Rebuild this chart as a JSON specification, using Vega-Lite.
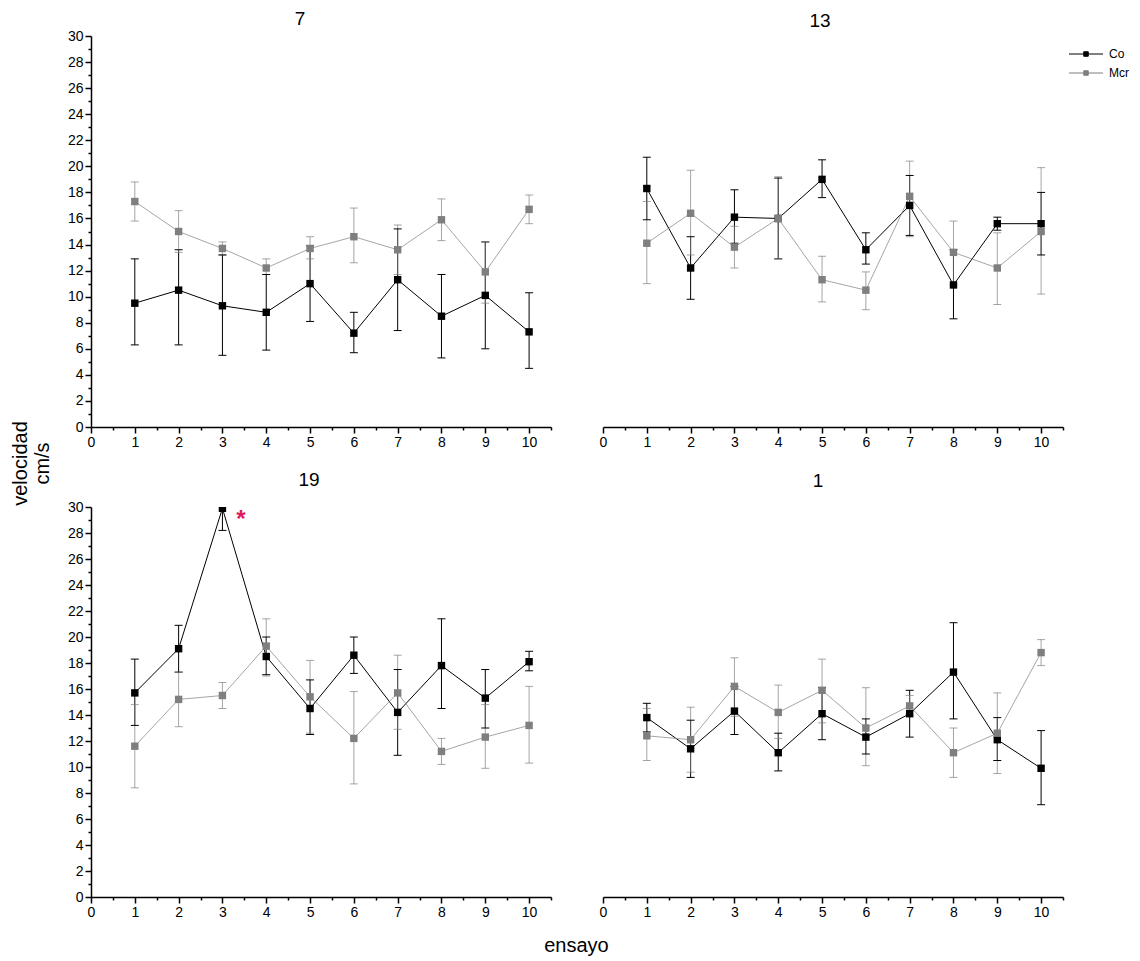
{
  "$schema": "https://vega.github.io/schema/vega-lite/v6.json",
  "padding": {"left": 10, "top": 10, "right": 5, "bottom": 5},
  "bounds": "flush",
  "background": "white",
  "columns": 2,
  "spacing": {"row": 80, "column": 52},
  "config": {
    "font": "Liberation Sans",
    "view": {"stroke": null},
    "axis": {"grid": false, "domainColor": "#000", "tickColor": "#000", "labelColor": "#000", "labelFontSize": 14, "labelFont": "Liberation Sans", "titleFont": "Liberation Sans", "titleFontSize": 20, "titleFontWeight": "normal", "titleColor": "#000", "domainWidth": 1.5, "tickWidth": 1.5, "labelFlush": false, "labelOverlap": false, "labelPadding": 2},
    "title": {"font": "Liberation Sans", "fontSize": 19, "fontWeight": "normal", "color": "#000", "anchor": "middle", "frame": "group"},
    "legend": {"orient": "none", "legendX": 989, "legendY": 12, "labelFontSize": 12, "labelFont": "Liberation Sans", "labelColor": "#000", "symbolType": "M-3.4,0H3.4M-0.45,-0.45H0.45V0.45H-0.45Z", "symbolSize": 100, "symbolStrokeWidth": 1, "rowPadding": 7, "labelOffset": 17}
  },
  "data": {"values": [
    {"panel": "7", "series": "Co", "ensayo": 1, "v": 9.5, "lo": 6.3, "hi": 12.9},
    {"panel": "7", "series": "Co", "ensayo": 2, "v": 10.5, "lo": 6.3, "hi": 13.6},
    {"panel": "7", "series": "Co", "ensayo": 3, "v": 9.3, "lo": 5.5, "hi": 13.2},
    {"panel": "7", "series": "Co", "ensayo": 4, "v": 8.8, "lo": 5.9, "hi": 11.7},
    {"panel": "7", "series": "Co", "ensayo": 5, "v": 11.0, "lo": 8.1, "hi": 13.9},
    {"panel": "7", "series": "Co", "ensayo": 6, "v": 7.2, "lo": 5.7, "hi": 8.8},
    {"panel": "7", "series": "Co", "ensayo": 7, "v": 11.3, "lo": 7.4, "hi": 15.2},
    {"panel": "7", "series": "Co", "ensayo": 8, "v": 8.5, "lo": 5.3, "hi": 11.7},
    {"panel": "7", "series": "Co", "ensayo": 9, "v": 10.1, "lo": 6.0, "hi": 14.2},
    {"panel": "7", "series": "Co", "ensayo": 10, "v": 7.3, "lo": 4.5, "hi": 10.3},
    {"panel": "7", "series": "Mcr", "ensayo": 1, "v": 17.3, "lo": 15.8, "hi": 18.8},
    {"panel": "7", "series": "Mcr", "ensayo": 2, "v": 15.0, "lo": 13.4, "hi": 16.6},
    {"panel": "7", "series": "Mcr", "ensayo": 3, "v": 13.7, "lo": 13.2, "hi": 14.2},
    {"panel": "7", "series": "Mcr", "ensayo": 4, "v": 12.2, "lo": 11.7, "hi": 12.9},
    {"panel": "7", "series": "Mcr", "ensayo": 5, "v": 13.7, "lo": 12.9, "hi": 14.6},
    {"panel": "7", "series": "Mcr", "ensayo": 6, "v": 14.6, "lo": 12.6, "hi": 16.8},
    {"panel": "7", "series": "Mcr", "ensayo": 7, "v": 13.6, "lo": 11.7, "hi": 15.5},
    {"panel": "7", "series": "Mcr", "ensayo": 8, "v": 15.9, "lo": 14.3, "hi": 17.5},
    {"panel": "7", "series": "Mcr", "ensayo": 9, "v": 11.9, "lo": 9.5, "hi": 14.2},
    {"panel": "7", "series": "Mcr", "ensayo": 10, "v": 16.7, "lo": 15.6, "hi": 17.8},
    {"panel": "13", "series": "Co", "ensayo": 1, "v": 18.3, "lo": 15.9, "hi": 20.7},
    {"panel": "13", "series": "Co", "ensayo": 2, "v": 12.2, "lo": 9.8, "hi": 14.6},
    {"panel": "13", "series": "Co", "ensayo": 3, "v": 16.1, "lo": 14.1, "hi": 18.2},
    {"panel": "13", "series": "Co", "ensayo": 4, "v": 16.0, "lo": 12.9, "hi": 19.1},
    {"panel": "13", "series": "Co", "ensayo": 5, "v": 19.0, "lo": 17.6, "hi": 20.5},
    {"panel": "13", "series": "Co", "ensayo": 6, "v": 13.6, "lo": 12.5, "hi": 14.9},
    {"panel": "13", "series": "Co", "ensayo": 7, "v": 17.0, "lo": 14.7, "hi": 19.3},
    {"panel": "13", "series": "Co", "ensayo": 8, "v": 10.9, "lo": 8.3, "hi": 13.6},
    {"panel": "13", "series": "Co", "ensayo": 9, "v": 15.6, "lo": 15.1, "hi": 16.1},
    {"panel": "13", "series": "Co", "ensayo": 10, "v": 15.6, "lo": 13.2, "hi": 18.0},
    {"panel": "13", "series": "Mcr", "ensayo": 1, "v": 14.1, "lo": 11.0, "hi": 17.3},
    {"panel": "13", "series": "Mcr", "ensayo": 2, "v": 16.4, "lo": 13.2, "hi": 19.7},
    {"panel": "13", "series": "Mcr", "ensayo": 3, "v": 13.8, "lo": 12.2, "hi": 15.4},
    {"panel": "13", "series": "Mcr", "ensayo": 4, "v": 16.0, "lo": 12.9, "hi": 19.2},
    {"panel": "13", "series": "Mcr", "ensayo": 5, "v": 11.3, "lo": 9.6, "hi": 13.1},
    {"panel": "13", "series": "Mcr", "ensayo": 6, "v": 10.5, "lo": 9.0, "hi": 11.9},
    {"panel": "13", "series": "Mcr", "ensayo": 7, "v": 17.7, "lo": 14.6, "hi": 20.4},
    {"panel": "13", "series": "Mcr", "ensayo": 8, "v": 13.4, "lo": 10.9, "hi": 15.8},
    {"panel": "13", "series": "Mcr", "ensayo": 9, "v": 12.2, "lo": 9.4, "hi": 14.9},
    {"panel": "13", "series": "Mcr", "ensayo": 10, "v": 15.0, "lo": 10.2, "hi": 19.9},
    {"panel": "19", "series": "Co", "ensayo": 1, "v": 15.7, "lo": 13.2, "hi": 18.3},
    {"panel": "19", "series": "Co", "ensayo": 2, "v": 19.1, "lo": 17.3, "hi": 20.9},
    {"panel": "19", "series": "Co", "ensayo": 3, "v": 29.9, "lo": 28.2, "hi": 31.6},
    {"panel": "19", "series": "Co", "ensayo": 4, "v": 18.5, "lo": 17.1, "hi": 20.0},
    {"panel": "19", "series": "Co", "ensayo": 5, "v": 14.5, "lo": 12.5, "hi": 16.7},
    {"panel": "19", "series": "Co", "ensayo": 6, "v": 18.6, "lo": 17.2, "hi": 20.0},
    {"panel": "19", "series": "Co", "ensayo": 7, "v": 14.2, "lo": 10.9, "hi": 17.5},
    {"panel": "19", "series": "Co", "ensayo": 8, "v": 17.8, "lo": 14.5, "hi": 21.4},
    {"panel": "19", "series": "Co", "ensayo": 9, "v": 15.3, "lo": 13.0, "hi": 17.5},
    {"panel": "19", "series": "Co", "ensayo": 10, "v": 18.1, "lo": 17.4, "hi": 18.9},
    {"panel": "19", "series": "Mcr", "ensayo": 1, "v": 11.6, "lo": 8.4, "hi": 14.8},
    {"panel": "19", "series": "Mcr", "ensayo": 2, "v": 15.2, "lo": 13.1, "hi": 17.3},
    {"panel": "19", "series": "Mcr", "ensayo": 3, "v": 15.5, "lo": 14.5, "hi": 16.5},
    {"panel": "19", "series": "Mcr", "ensayo": 4, "v": 19.3, "lo": 17.0, "hi": 21.4},
    {"panel": "19", "series": "Mcr", "ensayo": 5, "v": 15.4, "lo": 12.6, "hi": 18.2},
    {"panel": "19", "series": "Mcr", "ensayo": 6, "v": 12.2, "lo": 8.7, "hi": 15.8},
    {"panel": "19", "series": "Mcr", "ensayo": 7, "v": 15.7, "lo": 12.9, "hi": 18.6},
    {"panel": "19", "series": "Mcr", "ensayo": 8, "v": 11.2, "lo": 10.2, "hi": 12.2},
    {"panel": "19", "series": "Mcr", "ensayo": 9, "v": 12.3, "lo": 9.9, "hi": 14.8},
    {"panel": "19", "series": "Mcr", "ensayo": 10, "v": 13.2, "lo": 10.3, "hi": 16.2},
    {"panel": "1", "series": "Co", "ensayo": 1, "v": 13.8, "lo": 12.7, "hi": 14.9},
    {"panel": "1", "series": "Co", "ensayo": 2, "v": 11.4, "lo": 9.2, "hi": 13.6},
    {"panel": "1", "series": "Co", "ensayo": 3, "v": 14.3, "lo": 12.5, "hi": 16.2},
    {"panel": "1", "series": "Co", "ensayo": 4, "v": 11.1, "lo": 9.7, "hi": 12.6},
    {"panel": "1", "series": "Co", "ensayo": 5, "v": 14.1, "lo": 12.1, "hi": 16.1},
    {"panel": "1", "series": "Co", "ensayo": 6, "v": 12.3, "lo": 11.0, "hi": 13.7},
    {"panel": "1", "series": "Co", "ensayo": 7, "v": 14.1, "lo": 12.3, "hi": 15.9},
    {"panel": "1", "series": "Co", "ensayo": 8, "v": 17.3, "lo": 13.7, "hi": 21.1},
    {"panel": "1", "series": "Co", "ensayo": 9, "v": 12.1, "lo": 10.5, "hi": 13.8},
    {"panel": "1", "series": "Co", "ensayo": 10, "v": 9.9, "lo": 7.1, "hi": 12.8},
    {"panel": "1", "series": "Mcr", "ensayo": 1, "v": 12.4, "lo": 10.5, "hi": 14.5},
    {"panel": "1", "series": "Mcr", "ensayo": 2, "v": 12.1, "lo": 9.6, "hi": 14.6},
    {"panel": "1", "series": "Mcr", "ensayo": 3, "v": 16.2, "lo": 13.9, "hi": 18.4},
    {"panel": "1", "series": "Mcr", "ensayo": 4, "v": 14.2, "lo": 12.2, "hi": 16.3},
    {"panel": "1", "series": "Mcr", "ensayo": 5, "v": 15.9, "lo": 13.4, "hi": 18.3},
    {"panel": "1", "series": "Mcr", "ensayo": 6, "v": 13.0, "lo": 10.1, "hi": 16.1},
    {"panel": "1", "series": "Mcr", "ensayo": 7, "v": 14.7, "lo": 14.0, "hi": 15.5},
    {"panel": "1", "series": "Mcr", "ensayo": 8, "v": 11.1, "lo": 9.2, "hi": 13.0},
    {"panel": "1", "series": "Mcr", "ensayo": 9, "v": 12.6, "lo": 9.5, "hi": 15.7},
    {"panel": "1", "series": "Mcr", "ensayo": 10, "v": 18.8, "lo": 17.8, "hi": 19.8}
  ]},
  "concat": [
    {
      "width": 460, "height": 391,
      "title": {"text": "7", "dx": -21, "offset": -15, "baseline": "alphabetic"},
      "transform": [{"filter": "datum.panel == '7'"}],
      "encoding": {
        "x": {"field": "ensayo", "type": "quantitative", "scale": {"domain": [0, 10.5], "nice": false}, "axis": {"title": null, "values": [0,0.5,1,1.5,2,2.5,3,3.5,4,4.5,5,5.5,6,6.5,7,7.5,8,8.5,9,9.5,10,10.5], "labelExpr": "datum.value % 1 == 0 ? format(datum.value, 'd') : ''", "tickSize": {"condition": {"test": "datum.value % 1 == 0", "value": 6}, "value": 3}}},
        "y": {"field": "v", "type": "quantitative", "scale": {"domain": [0, 30], "nice": false}, "axis": {"title": ["velocidad", "cm/s"], "titleX": -61, "titleY": 427, "titleLineHeight": 22, "titleAlign": "center", "values": [0,1,2,3,4,5,6,7,8,9,10,11,12,13,14,15,16,17,18,19,20,21,22,23,24,25,26,27,28,29,30], "labelExpr": "datum.value % 2 == 0 ? format(datum.value, 'd') : ''", "tickSize": {"condition": {"test": "datum.value % 2 == 0", "value": 6}, "value": 3}}},
        "color": {"field": "series", "type": "nominal", "scale": {"domain": ["Co", "Mcr"], "range": ["#000000", "#7f7f7f"]}, "legend": {"title": null, "encode": {"symbols": {"update": {"stroke": {"scale": "color", "field": "value"}, "strokeWidth": {"value": 1}}}}}},
        "opacity": {"condition": {"test": "datum.series == 'Mcr'", "value": 0.7}, "value": 1}
      },
      "layer": [
        {"mark": {"type": "rule", "strokeWidth": 1, "clip": true}, "encoding": {"y": {"field": "lo", "type": "quantitative"}, "y2": {"field": "hi"}}},
        {"mark": {"type": "tick", "orient": "horizontal", "size": 8, "thickness": 1, "clip": true}, "encoding": {"y": {"field": "lo", "type": "quantitative"}}},
        {"mark": {"type": "tick", "orient": "horizontal", "size": 8, "thickness": 1, "clip": true}, "encoding": {"y": {"field": "hi", "type": "quantitative"}}},
        {"mark": {"type": "line", "strokeWidth": 1}, "encoding": {}},
        {"mark": {"type": "point", "shape": "square", "filled": true, "size": 55, "clip": true}, "encoding": {"opacity": {"value": 1}}}
      ]
    },
    {
      "width": 460, "height": 391,
      "title": {"text": "13", "dx": -13, "offset": -10, "baseline": "alphabetic"},
      "transform": [{"filter": "datum.panel == '13'"}],
      "encoding": {
        "x": {"field": "ensayo", "type": "quantitative", "scale": {"domain": [0, 10.5], "nice": false}, "axis": {"title": null, "values": [0,0.5,1,1.5,2,2.5,3,3.5,4,4.5,5,5.5,6,6.5,7,7.5,8,8.5,9,9.5,10,10.5], "labelExpr": "datum.value % 1 == 0 ? format(datum.value, 'd') : ''", "tickSize": {"condition": {"test": "datum.value % 1 == 0", "value": 6}, "value": 3}}},
        "y": {"field": "v", "type": "quantitative", "scale": {"domain": [0, 30], "nice": false}, "axis": null},
        "color": {"field": "series", "type": "nominal", "scale": {"domain": ["Co", "Mcr"], "range": ["#000000", "#7f7f7f"]}, "legend": {"title": null, "encode": {"symbols": {"update": {"stroke": {"scale": "color", "field": "value"}, "strokeWidth": {"value": 1}}}}}},
        "opacity": {"condition": {"test": "datum.series == 'Mcr'", "value": 0.7}, "value": 1}
      },
      "layer": [
        {"mark": {"type": "rule", "strokeWidth": 1, "clip": true}, "encoding": {"y": {"field": "lo", "type": "quantitative", "axis": null}, "y2": {"field": "hi"}}},
        {"mark": {"type": "tick", "orient": "horizontal", "size": 8, "thickness": 1, "clip": true}, "encoding": {"y": {"field": "lo", "type": "quantitative", "axis": null}}},
        {"mark": {"type": "tick", "orient": "horizontal", "size": 8, "thickness": 1, "clip": true}, "encoding": {"y": {"field": "hi", "type": "quantitative", "axis": null}}},
        {"mark": {"type": "line", "strokeWidth": 1}, "encoding": {}},
        {"mark": {"type": "point", "shape": "square", "filled": true, "size": 55, "clip": true}, "encoding": {"opacity": {"value": 1}}}
      ]
    },
    {
      "width": 460, "height": 390,
      "title": {"text": "19", "dx": -12, "offset": -5, "baseline": "alphabetic"},
      "encoding": {
        "x": {"field": "ensayo", "type": "quantitative", "scale": {"domain": [0, 10.5], "nice": false}, "axis": {"title": "ensayo", "titleX": 485, "titleY": 54, "titleBaseline": "alphabetic", "titleAlign": "center", "values": [0,0.5,1,1.5,2,2.5,3,3.5,4,4.5,5,5.5,6,6.5,7,7.5,8,8.5,9,9.5,10,10.5], "labelExpr": "datum.value % 1 == 0 ? format(datum.value, 'd') : ''", "tickSize": {"condition": {"test": "datum.value % 1 == 0", "value": 6}, "value": 3}}},
        "y": {"field": "v", "type": "quantitative", "scale": {"domain": [0, 30], "nice": false}, "axis": {"title": null, "values": [0,1,2,3,4,5,6,7,8,9,10,11,12,13,14,15,16,17,18,19,20,21,22,23,24,25,26,27,28,29,30], "labelExpr": "datum.value % 2 == 0 ? format(datum.value, 'd') : ''", "tickSize": {"condition": {"test": "datum.value % 2 == 0", "value": 6}, "value": 3}}}
      },
      "layer": [
        {
          "transform": [{"filter": "datum.panel == '19'"}],
          "encoding": {
            "color": {"field": "series", "type": "nominal", "scale": {"domain": ["Co", "Mcr"], "range": ["#000000", "#7f7f7f"]}, "legend": {"title": null, "encode": {"symbols": {"update": {"stroke": {"scale": "color", "field": "value"}, "strokeWidth": {"value": 1}}}}}},
            "opacity": {"condition": {"test": "datum.series == 'Mcr'", "value": 0.7}, "value": 1}
          },
          "layer": [
            {"mark": {"type": "rule", "strokeWidth": 1, "clip": true}, "encoding": {"y": {"field": "lo", "type": "quantitative"}, "y2": {"field": "hi"}}},
            {"mark": {"type": "tick", "orient": "horizontal", "size": 8, "thickness": 1, "clip": true}, "encoding": {"y": {"field": "lo", "type": "quantitative"}}},
            {"mark": {"type": "tick", "orient": "horizontal", "size": 8, "thickness": 1, "clip": true}, "encoding": {"y": {"field": "hi", "type": "quantitative"}}},
            {"mark": {"type": "line", "strokeWidth": 1}, "encoding": {}},
            {"mark": {"type": "point", "shape": "square", "filled": true, "size": 55, "clip": true}, "encoding": {"opacity": {"value": 1}}}
          ]
        },
        {"data": {"values": [{"ensayo": 3.42, "v": 29.0, "label": "*"}]}, "mark": {"type": "text", "fontSize": 24, "fontWeight": "bold", "color": "#e0195a", "baseline": "middle", "align": "center"}, "encoding": {"text": {"field": "label"}}}
      ]
    },
    {
      "width": 460, "height": 390,
      "title": {"text": "1", "dx": -15, "offset": 1, "baseline": "alphabetic"},
      "transform": [{"filter": "datum.panel == '1'"}],
      "encoding": {
        "x": {"field": "ensayo", "type": "quantitative", "scale": {"domain": [0, 10.5], "nice": false}, "axis": {"title": null, "values": [0,0.5,1,1.5,2,2.5,3,3.5,4,4.5,5,5.5,6,6.5,7,7.5,8,8.5,9,9.5,10,10.5], "labelExpr": "datum.value % 1 == 0 ? format(datum.value, 'd') : ''", "tickSize": {"condition": {"test": "datum.value % 1 == 0", "value": 6}, "value": 3}}},
        "y": {"field": "v", "type": "quantitative", "scale": {"domain": [0, 30], "nice": false}, "axis": null},
        "color": {"field": "series", "type": "nominal", "scale": {"domain": ["Co", "Mcr"], "range": ["#000000", "#7f7f7f"]}, "legend": {"title": null, "encode": {"symbols": {"update": {"stroke": {"scale": "color", "field": "value"}, "strokeWidth": {"value": 1}}}}}},
        "opacity": {"condition": {"test": "datum.series == 'Mcr'", "value": 0.7}, "value": 1}
      },
      "layer": [
        {"mark": {"type": "rule", "strokeWidth": 1, "clip": true}, "encoding": {"y": {"field": "lo", "type": "quantitative", "axis": null}, "y2": {"field": "hi"}}},
        {"mark": {"type": "tick", "orient": "horizontal", "size": 8, "thickness": 1, "clip": true}, "encoding": {"y": {"field": "lo", "type": "quantitative", "axis": null}}},
        {"mark": {"type": "tick", "orient": "horizontal", "size": 8, "thickness": 1, "clip": true}, "encoding": {"y": {"field": "hi", "type": "quantitative", "axis": null}}},
        {"mark": {"type": "line", "strokeWidth": 1}, "encoding": {}},
        {"mark": {"type": "point", "shape": "square", "filled": true, "size": 55, "clip": true}, "encoding": {"opacity": {"value": 1}}}
      ]
    }
  ]
}
